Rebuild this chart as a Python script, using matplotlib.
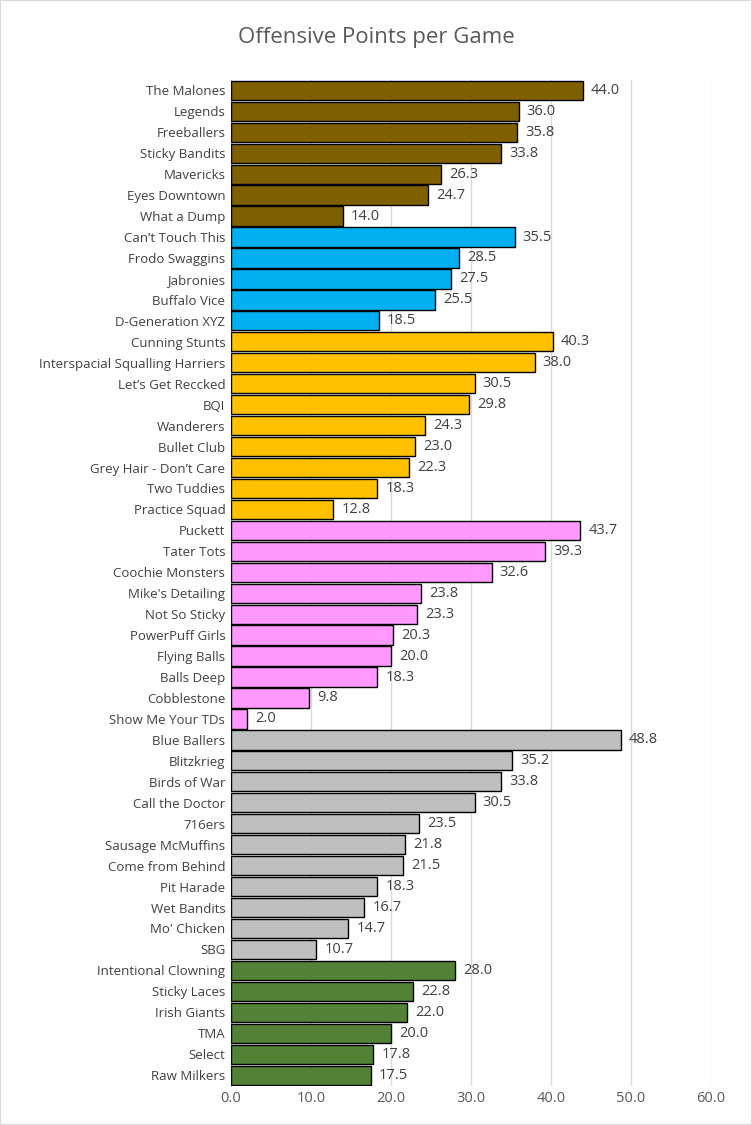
import matplotlib.pyplot as plt
from matplotlib.patches import Rectangle

teams = ["The Malones", "Legends", "Freeballers", "Sticky Bandits", "Mavericks", "Eyes Downtown", "What a Dump",
         "Can\u2019t Touch This", "Frodo Swaggins", "Jabronies", "Buffalo Vice", "D-Generation XYZ",
         "Cunning Stunts", "Interspacial Squalling Harriers", "Let\u2019s Get Reccked", "BQI", "Wanderers",
         "Bullet Club", "Grey Hair - Don\u2019t Care", "Two Tuddies", "Practice Squad",
         "Puckett", "Tater Tots", "Coochie Monsters", "Mike's Detailing", "Not So Sticky", "PowerPuff Girls",
         "Flying Balls", "Balls Deep", "Cobblestone", "Show Me Your TDs",
         "Blue Ballers", "Blitzkrieg", "Birds of War", "Call the Doctor", "716ers", "Sausage McMuffins",
         "Come from Behind", "Pit Harade", "Wet Bandits", "Mo' Chicken", "SBG",
         "Intentional Clowning", "Sticky Laces", "Irish Giants", "TMA", "Select", "Raw Milkers"]
points = [44.0, 36.0, 35.8, 33.8, 26.3, 24.7, 14.0,
          35.5, 28.5, 27.5, 25.5, 18.5,
          40.3, 38.0, 30.5, 29.8, 24.3, 23.0, 22.3, 18.3, 12.8,
          43.7, 39.3, 32.6, 23.8, 23.3, 20.3, 20.0, 18.3, 9.8, 2.0,
          48.8, 35.2, 33.8, 30.5, 23.5, 21.8, 21.5, 18.3, 16.7, 14.7, 10.7,
          28.0, 22.8, 22.0, 20.0, 17.8, 17.5]
group_sizes = [7, 5, 9, 10, 11, 6]
group_colors = ["#7F6000", "#00B0F0", "#FFC000", "#FF99FF", "#BFBFBF", "#538135"]

colors = []
for n, c in zip(group_sizes, group_colors):
    colors += [c] * n

plt.rcParams['font.family'] = ['Open Sans', 'DejaVu Sans']
fig = plt.figure(figsize=(7.52, 11.25), dpi=100)
fig.patches.append(Rectangle((0, 0), 1, 1, transform=fig.transFigure, fill=False, edgecolor="#D9D9D9", lw=1.5))
ax = fig.add_axes([0.307, 0.035, 0.638, 0.894])
y = list(range(len(teams)))
ax.barh(y, points, height=0.92, color=colors, edgecolor="black", linewidth=1, zorder=3)
for yi, v in zip(y, points):
    ax.text(v + 1.0, yi, f"{v:.1f}", va="center", ha="left", fontsize=10.5, color="#404040")
ax.set_yticks(y)
ax.set_yticklabels(teams, fontsize=9.5, color="#404040")
ax.set_ylim(len(teams) - 0.5, -0.5)
ax.set_xlim(0, 60)
ax.set_xticks(range(0, 61, 10))
ax.set_xticklabels([f"{t:.1f}" for t in range(0, 61, 10)], fontsize=10.5, color="#595959")
ax.grid(axis="x", color="#D9D9D9", lw=1, zorder=0)
for s in ["top", "right", "bottom"]:
    ax.spines[s].set_visible(False)
ax.spines["left"].set_color("#BFBFBF")
ax.tick_params(length=0, pad=4)
fig.text(0.5, 0.967, "Offensive Points per Game", ha="center", va="center", fontsize=16, color="#595959")
fig.savefig("out.png", dpi=100)
